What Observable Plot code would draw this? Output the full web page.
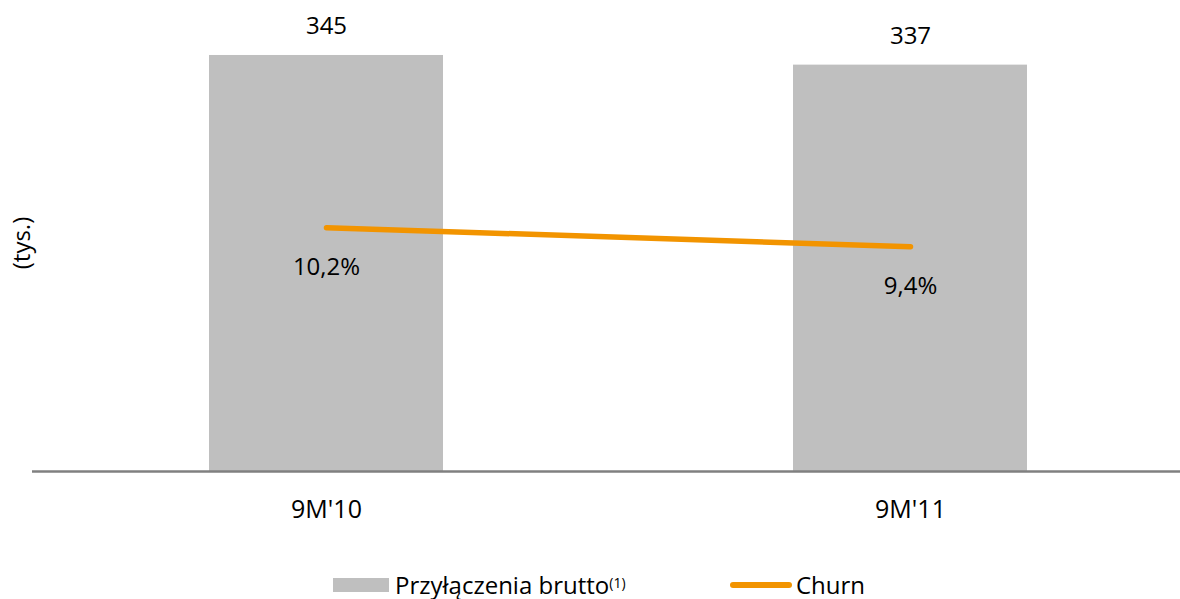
<!DOCTYPE html>
<html>
<head>
<meta charset="utf-8">
<script src="https://cdn.jsdelivr.net/npm/d3@7"></script>
<script src="https://cdn.jsdelivr.net/npm/@observablehq/plot@0.6"></script>
<style>
  html, body { margin: 0; padding: 0; background: #fff; }
  body { width: 1180px; height: 599px; overflow: hidden; font-family: "Open Sans", sans-serif; }
  #wrap { position: relative; width: 1180px; height: 560px; }
  #wrap svg { position: absolute; left: 0; top: 0; }
  #legend { position: relative; height: 39px; font-family: "Open Sans", sans-serif; font-size: 24px; color: #000; }
  .item { position: absolute; top: 5px; height: 39px; display: flex; align-items: center; }
  .sw-bar { width: 56px; height: 14px; background: #BFBFBF; margin-right: 6px; }
  .sw-line { width: 62px; height: 6px; border-radius: 3px; background: #F29400; margin-right: 4px; }
  sup { font-size: 14px; vertical-align: 6px; }
</style>
</head>
<body>
<div id="wrap"></div>
<div id="legend">
  <div class="item" style="left:333px"><div class="sw-bar"></div><span>Przyłączenia brutto<sup>(1)</sup></span></div>
  <div class="item" style="left:730px"><div class="sw-line"></div><span>Churn</span></div>
</div>
<script>
const periods = ["9M'10", "9M'11"];
const grossAdds = [345, 337];          // thousands
const churn = [10.2, 9.4];             // percent
const churnLabels = ["10,2%", "9,4%"];

const barData = periods.map((p, i) => ({period: p, value: grossAdds[i]}));
const lineData = periods.map((p, i) => ({period: p, churn: churn[i], label: churnLabels[i]}));

const W = 1180, H = 560;
const xOpts = {type: "band", domain: periods, paddingInner: 0.6, paddingOuter: 0.2812, align: 0.535};
const font = "Open Sans, sans-serif";

const bars = Plot.plot({
  width: W, height: H,
  marginLeft: 32, marginRight: 0, marginTop: 0, marginBottom: 89,
  style: {fontFamily: font, background: "transparent"},
  x: {...xOpts, axis: null},
  y: {domain: [0, 390.6], axis: null},
  marks: [
    Plot.barY(barData, {x: "period", y: "value", fill: "#BFBFBF"}),
    Plot.ruleY([0], {stroke: "#808080", strokeWidth: 2.5}),
    Plot.text(barData, {x: "period", y: "value", text: d => String(d.value), dy: -29, fontSize: 24, fill: "#000"}),
    Plot.axisX({tickSize: 0, tickPadding: 29, fontSize: 25, fill: "#000", label: null}),
    Plot.text(["(tys.)"], {frameAnchor: "left", textAnchor: "middle", dx: -10, dy: 7, rotate: -90, fontSize: 24, fill: "#000"})
  ]
});

const line = Plot.plot({
  width: W, height: H,
  marginLeft: 32, marginRight: 0, marginTop: 0, marginBottom: 89,
  style: {fontFamily: font, background: "transparent"},
  x: {...xOpts, axis: null},
  y: {domain: [0, 19.7], axis: null},
  marks: [
    Plot.line(lineData, {x: "period", y: "churn", stroke: "#F29400", strokeWidth: 5.5, strokeLinecap: "round"}),
    Plot.text(lineData, {x: "period", y: "churn", text: "label", dy: 40, fontSize: 24, fill: "#000"})
  ]
});

const wrap = document.getElementById("wrap");
wrap.appendChild(bars);
wrap.appendChild(line);
</script>
</body>
</html>
